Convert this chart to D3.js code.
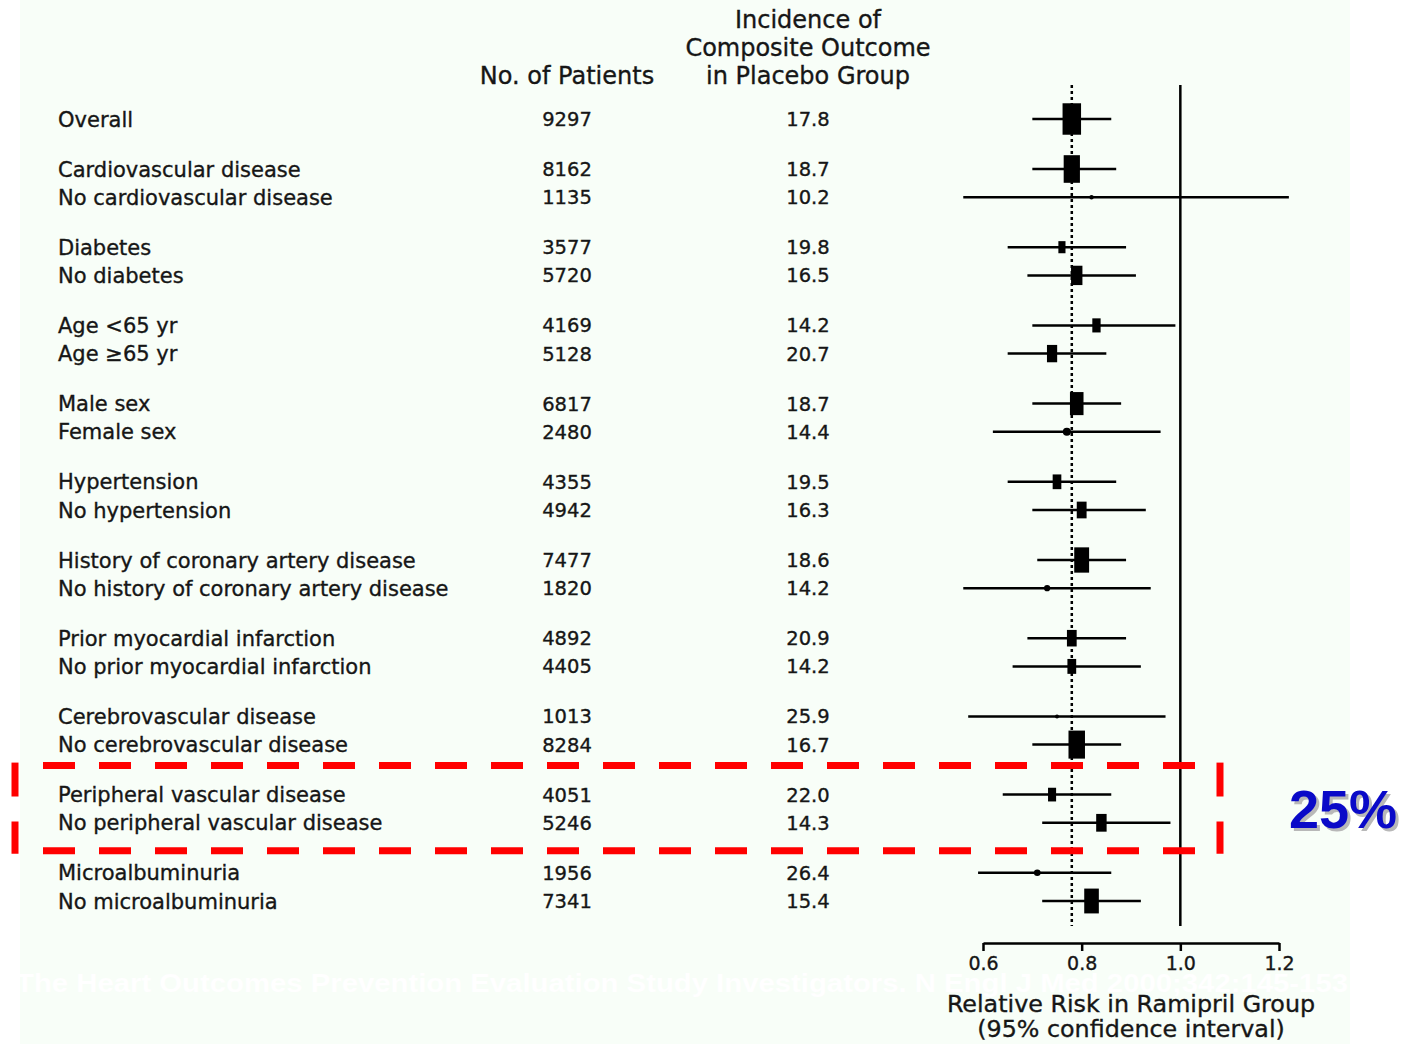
<!DOCTYPE html>
<html>
<head>
<meta charset="utf-8">
<script src="https://cdn.jsdelivr.net/npm/d3@7"></script>
<style>
  body { margin: 0; background: #ffffff; }
  svg text { font-family: "DejaVu Sans", Verdana, sans-serif; fill: #161616; }
  .ink { stroke: #161616; stroke-width: 0.35px; }
</style>
</head>
<body>
<svg id="forest" width="1403" height="1044"></svg>
<script>
// subgroup rows, top to bottom
var labels = ["Overall",
  "Cardiovascular disease", "No cardiovascular disease",
  "Diabetes", "No diabetes",
  "Age <65 yr", "Age \u226565 yr",
  "Male sex", "Female sex",
  "Hypertension", "No hypertension",
  "History of coronary artery disease", "No history of coronary artery disease",
  "Prior myocardial infarction", "No prior myocardial infarction",
  "Cerebrovascular disease", "No cerebrovascular disease",
  "Peripheral vascular disease", "No peripheral vascular disease",
  "Microalbuminuria", "No microalbuminuria"]
var groups = [0, 1, 1, 2, 2, 3, 3, 4, 4, 5, 5, 6, 6, 7, 7, 8, 8, 9, 9, 10, 10]
var patients = [9297, 8162, 1135, 3577, 5720, 4169, 5128, 6817, 2480, 4355, 4942,
  7477, 1820, 4892, 4405, 1013, 8284, 4051, 5246, 1956, 7341]
var incidence = ["17.8", "18.7", "10.2", "19.8", "16.5", "14.2", "20.7", "18.7", "14.4", "19.5", "16.3",
  "18.6", "14.2", "20.9", "14.2", "25.9", "16.7", "22.0", "14.3", "26.4", "15.4"]
var rr = [0.78, 0.78, 0.82, 0.76, 0.79, 0.83, 0.74, 0.79, 0.77, 0.75, 0.80,
  0.80, 0.73, 0.78, 0.78, 0.75, 0.79, 0.74, 0.84, 0.71, 0.82]
var lower = [0.70, 0.70, 0.56, 0.65, 0.69, 0.70, 0.65, 0.70, 0.62, 0.65, 0.70,
  0.71, 0.56, 0.69, 0.66, 0.57, 0.70, 0.64, 0.72, 0.59, 0.72]
var upper = [0.86, 0.87, 1.22, 0.89, 0.91, 0.99, 0.85, 0.88, 0.96, 0.87, 0.93,
  0.89, 0.94, 0.89, 0.92, 0.97, 0.88, 0.86, 0.98, 0.86, 0.92]
var xTicks = [0.6, 0.8, 1.0, 1.2]
var highlightRows = [17, 18]
var highlightText = "25%"
var source = "The Heart Outcomes Prevention Evaluation Study Investigators. N Engl J Med 2000;342:145-153"

var rows = labels.map(function(l, i) {
  return {label: l, group: groups[i], n: patients[i], inc: incidence[i], rr: rr[i], lo: lower[i], hi: upper[i], i: i}
})

var svg = d3.select("#forest")

// faint panel behind the slide
svg.append("rect").attr("x", 20).attr("y", 0).attr("width", 1330).attr("height", 1044).attr("fill", "#f8fef8")

var x = d3.scaleLinear().domain([0.6, 1.2]).range([983, 1279])
// row position: slot + extra gap per group
function rowY(d) { return 119 + d.i * 28.2 + d.group * 21.8 }
var boxW = d3.scaleLinear().domain([0, 9297]).range([0, 18.5])

// watermark citation
svg.append("text")
  .attr("x", 16).attr("y", 992)
  .attr("textLength", 1332).attr("lengthAdjust", "spacingAndGlyphs")
  .style("font-family", "'Liberation Sans', Arial, sans-serif")
  .style("font-size", "25px").style("font-weight", "bold").style("fill", "#ffffff")
  .text(source)

// column headers
var head = svg.append("g").attr("class", "ink").style("font-size", "24px")
head.append("text").attr("x", 567).attr("y", 84).attr("text-anchor", "middle").text("No. of Patients")
head.selectAll(".h2").data(["Incidence of", "Composite Outcome", "in Placebo Group"]).enter()
  .append("text").attr("class", "h2")
  .attr("x", 808).attr("y", function(d, i) { return 28 + i * 28 })
  .attr("text-anchor", "middle").text(function(d) { return d })

// table text
var tbl = svg.append("g").attr("class", "ink").style("font-size", "21px")
tbl.selectAll(".lab").data(rows).enter().append("text")
  .attr("x", 58).attr("y", rowY).attr("dy", "0.36em").text(d => d.label)
tbl.selectAll(".num").data(rows).enter().append("text")
  .attr("x", 567).attr("y", rowY).attr("dy", "0.36em").attr("text-anchor", "middle")
  .style("font-size", "19.5px").text(d => d.n)
tbl.selectAll(".inc").data(rows).enter().append("text")
  .attr("x", 808).attr("y", rowY).attr("dy", "0.36em").attr("text-anchor", "middle")
  .style("font-size", "19.5px").text(d => d.inc)

// reference lines
svg.append("line").attr("x1", x(1)).attr("x2", x(1)).attr("y1", 85).attr("y2", 926)
  .attr("stroke", "#000").attr("stroke-width", 2.5)
svg.append("line").attr("x1", x(rr[0])).attr("x2", x(rr[0])).attr("y1", 85).attr("y2", 926)
  .attr("stroke", "#000").attr("stroke-width", 2.5).attr("stroke-dasharray", "3,3")

// confidence intervals and boxes (tiny subgroups show as dots)
var plot = svg.append("g")
plot.selectAll(".ci").data(rows).enter().append("line")
  .attr("x1", d => x(d.lo)).attr("x2", d => x(d.hi))
  .attr("y1", rowY).attr("y2", rowY)
  .attr("stroke", "#000").attr("stroke-width", 2.5)
var big = rows.filter(d => boxW(d.n) >= 6), small = rows.filter(d => boxW(d.n) < 6)
plot.selectAll(".box").data(big).enter().append("rect")
  .attr("x", d => x(d.rr) - boxW(d.n) / 2)
  .attr("y", d => rowY(d) - boxW(d.n) * 0.85)
  .attr("width", d => boxW(d.n))
  .attr("height", d => boxW(d.n) * 1.7)
  .attr("fill", "#000")
plot.selectAll(".dot").data(small).enter().append("circle")
  .attr("cx", d => x(d.rr)).attr("cy", rowY)
  .attr("r", d => boxW(d.n) * 0.7 + 0.6)
  .attr("fill", "#000")

// axis
var axis = svg.append("g").attr("transform", "translate(0,943)")
  .call(d3.axisBottom(x).tickValues(xTicks).tickFormat(d3.format(".1f")).tickSize(8).tickSizeOuter(0).tickPadding(6))
axis.select(".domain").attr("stroke", "#000").attr("stroke-width", 2.5)
axis.selectAll(".tick line").attr("stroke", "#000").attr("stroke-width", 2.5)
axis.selectAll(".tick text").attr("class", "ink").style("font-size", "19px").attr("fill", "#161616")
  .style("font-family", "'DejaVu Sans', Verdana, sans-serif")

var at = svg.append("g").attr("class", "ink").style("font-size", "23.8px")
at.append("text").attr("x", 1131).attr("y", 1012).attr("text-anchor", "middle").text("Relative Risk in Ramipril Group")
at.append("text").attr("x", 1131).attr("y", 1037).attr("text-anchor", "middle").text("(95% confidence interval)")

// red dashed highlight around peripheral vascular rows
var hTop = rowY(rows[highlightRows[0]]) - 29
var hBot = rowY(rows[highlightRows[1]]) + 28
var hL = 15, hR = 1220
var red = svg.append("g").attr("stroke", "#ff0000").attr("stroke-width", 7).attr("stroke-dasharray", "32,24")
red.append("line").attr("x1", 43).attr("x2", hR - 22).attr("y1", hTop).attr("y2", hTop)
red.append("line").attr("x1", 43).attr("x2", hR - 22).attr("y1", hBot).attr("y2", hBot)
red.append("line").attr("x1", hL).attr("x2", hL).attr("y1", hTop - 3).attr("y2", hBot + 3)
  .attr("stroke-dasharray", "34,25")
red.append("line").attr("x1", hR).attr("x2", hR).attr("y1", hTop - 3).attr("y2", hBot + 3)
  .attr("stroke-dasharray", "34,25")

// 25% callout with drop shadow
var call = svg.append("g").style("font-size", "54px").style("font-weight", "bold")
call.append("text").attr("x", 1346).attr("y", 831).attr("text-anchor", "middle")
  .style("font-family", "'Liberation Sans', Arial, sans-serif")
  .style("fill", "#b8b8b8").text(highlightText)
call.append("text").attr("x", 1343).attr("y", 828).attr("text-anchor", "middle")
  .style("font-family", "'Liberation Sans', Arial, sans-serif")
  .style("fill", "#0a0ac8").text(highlightText)
</script>
</body>
</html>
